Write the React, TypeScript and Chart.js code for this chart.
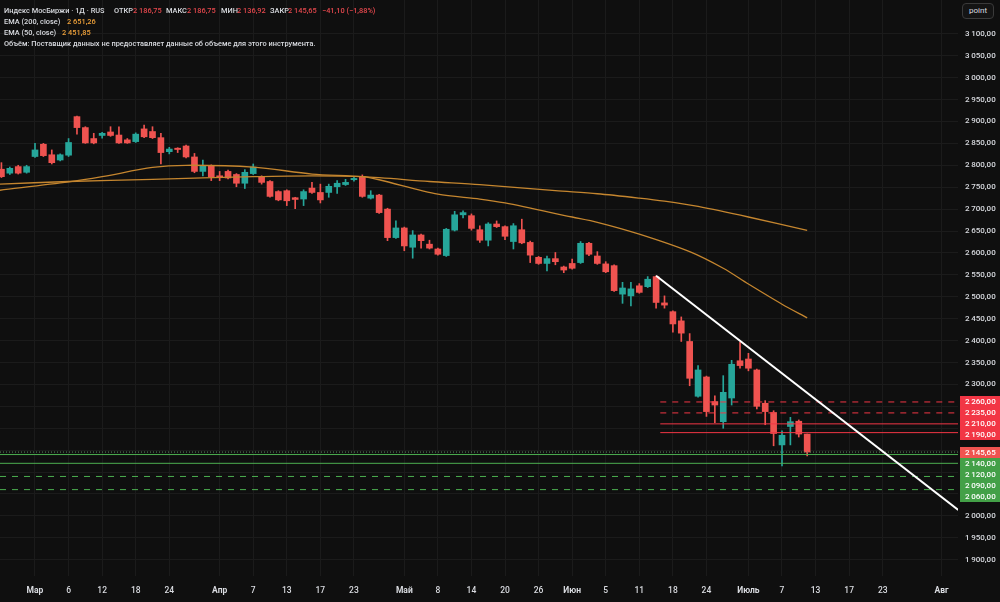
import React, { useEffect, useRef } from 'react';
import { Chart, registerables } from 'chart.js';

Chart.register(...registerables);

// ---- data -------------------------------------------------------------
const dates = [
  '24.02', '25.02', '26.02', '27.02', '02.03', '03.03', '04.03', '05.03', '06.03', '09.03',
  '10.03', '11.03', '12.03', '13.03', '16.03', '17.03', '18.03', '19.03', '20.03', '23.03',
  '24.03', '25.03', '26.03', '27.03', '30.03', '31.03', '01.04', '02.04', '03.04', '06.04',
  '07.04', '08.04', '09.04', '10.04', '13.04', '14.04', '15.04', '16.04', '17.04', '20.04',
  '21.04', '22.04', '23.04', '24.04', '27.04', '28.04', '29.04', '30.04', '04.05', '05.05',
  '06.05', '07.05', '08.05', '11.05', '12.05', '13.05', '14.05', '15.05', '18.05', '19.05',
  '20.05', '21.05', '22.05', '25.05', '26.05', '27.05', '28.05', '29.05', '01.06', '02.06',
  '03.06', '04.06', '05.06', '08.06', '09.06', '10.06', '11.06', '15.06', '16.06', '17.06',
  '18.06', '19.06', '22.06', '23.06', '24.06', '25.06', '26.06', '29.06', '30.06', '01.07',
  '02.07', '03.07', '06.07', '07.07', '08.07', '09.07', '10.07',
];

const opens = [
  2791, 2782, 2797, 2784, 2820, 2848, 2824, 2812, 2823, 2911,
  2886, 2861, 2868, 2876, 2869, 2858, 2854, 2883, 2877, 2863,
  2831, 2839, 2844, 2819, 2786, 2799, 2776, 2786, 2779, 2759,
  2781, 2774, 2763, 2740, 2742, 2726, 2723, 2748, 2738, 2738,
  2751, 2756, 2767, 2774, 2725, 2732, 2700, 2635, 2657, 2613,
  2641, 2620, 2609, 2594, 2652, 2687, 2685, 2653, 2629, 2666,
  2660, 2626, 2653, 2624, 2590, 2576, 2587, 2568, 2576, 2578,
  2622, 2593, 2575, 2571, 2506, 2502, 2525, 2523, 2546, 2486,
  2466, 2445, 2398, 2273, 2317, 2261, 2215, 2269, 2354, 2358,
  2333, 2257, 2236, 2162, 2204, 2216, 2186.75,
];
const highs = [
  2806, 2796, 2800, 2800, 2850, 2850, 2835, 2826, 2861, 2912,
  2888, 2873, 2875, 2888, 2888, 2861, 2874, 2892, 2888, 2873,
  2841, 2840, 2846, 2827, 2812, 2801, 2786, 2789, 2781, 2790,
  2803, 2776, 2765, 2742, 2744, 2727, 2744, 2761, 2757, 2757,
  2765, 2768, 2774, 2778, 2742, 2734, 2702, 2673, 2659, 2651,
  2643, 2629, 2611, 2656, 2695, 2696, 2689, 2662, 2669, 2673,
  2662, 2667, 2677, 2627, 2592, 2593, 2601, 2570, 2586, 2626,
  2624, 2603, 2580, 2573, 2533, 2533, 2530, 2546, 2548, 2502,
  2468, 2454, 2416, 2343, 2319, 2274, 2320, 2355, 2396, 2371,
  2335, 2263, 2240, 2194, 2225, 2219, 2186.75,
];
const lows = [
  2772, 2779, 2780, 2782, 2818, 2820, 2803, 2810, 2820, 2871,
  2850, 2849, 2862, 2866, 2850, 2850, 2852, 2863, 2861, 2803,
  2826, 2829, 2817, 2783, 2776, 2765, 2765, 2769, 2751, 2747,
  2779, 2757, 2727, 2719, 2708, 2701, 2708, 2736, 2714, 2727,
  2736, 2754, 2764, 2727, 2723, 2690, 2628, 2633, 2605, 2588,
  2611, 2609, 2595, 2592, 2650, 2680, 2652, 2624, 2616, 2658,
  2630, 2609, 2621, 2578, 2574, 2559, 2573, 2555, 2563, 2576,
  2594, 2574, 2555, 2512, 2485, 2479, 2508, 2521, 2474, 2474,
  2419, 2398, 2297, 2271, 2227, 2213, 2200, 2253, 2337, 2331,
  2244, 2208, 2160, 2114, 2162, 2180, 2136.92,
];
const closes = [
  2774, 2793, 2782, 2797, 2835, 2822, 2806, 2824, 2852, 2886,
  2851, 2851, 2873, 2868, 2851, 2851, 2871, 2865, 2863, 2829,
  2837, 2836, 2819, 2786, 2799, 2774, 2773, 2771, 2759, 2784,
  2796, 2761, 2729, 2721, 2719, 2722, 2740, 2738, 2721, 2752,
  2759, 2761, 2770, 2729, 2732, 2692, 2635, 2657, 2616, 2641,
  2628, 2611, 2597, 2654, 2687, 2692, 2656, 2629, 2666, 2660,
  2638, 2662, 2623, 2595, 2576, 2587, 2580, 2561, 2565, 2622,
  2597, 2576, 2557, 2514, 2520, 2518, 2510, 2540, 2487, 2481,
  2438, 2417, 2314, 2333, 2238, 2253, 2282, 2346, 2343, 2337,
  2250, 2238, 2188, 2184, 2215, 2186.75, 2145.65,
];

// EMA read-outs (bar index -> value)
const ema200Idx = [-0.2, 8, 18, 30, 37, 43, 51, 57, 66, 71, 76, 79, 83, 89, 96];
const ema200Vals = [2757, 2763, 2768, 2774, 2776, 2774, 2763, 2756, 2742, 2735, 2725, 2718, 2706, 2682, 2651.26];
const ema50Idx = [-0.2, 8, 12, 18, 22, 30, 37, 43, 45, 52, 57, 60, 68, 71, 76, 82, 86, 89, 93, 96];
const ema50Vals = [2743, 2762, 2774, 2795, 2800, 2796, 2780, 2774, 2767, 2734, 2723, 2714, 2682, 2670, 2643, 2603, 2565, 2529, 2483, 2451.85];

// trend line (bar index -> price)
const trendIdx = [78, 114];
const trendVals = [2548, 2013.5];

// horizontal levels
const redLevels = [2260, 2235, 2210, 2190];
const redDashed = [true, true, false, false];
const greenLevels = [2140, 2120, 2090, 2060];
const greenDashed = [false, false, true, true];
const lastPrice = 2145.65;
const redLevelStart = 78.5;

// axis ticks (labels between 2050 and 2250 sit under the level boxes)
const yTicks = [1900, 1950, 2000, 2050, 2100, 2150, 2200, 2250, 2300, 2350, 2400, 2450, 2500, 2550, 2600, 2650, 2700, 2750, 2800, 2850, 2900, 2950, 3000, 3050, 3100];
const yHiddenLabels = [2050, 2100, 2150, 2200, 2250];
const xTickIdx = [4, 8, 12, 16, 20, 26, 30, 34, 38, 42, 48, 52, 56, 60, 64, 68, 72, 76, 80, 84, 89, 93, 97, 101, 105, 112];
const xTickLabels = ['Мар', '6', '12', '18', '24', 'Апр', '7', '13', '17', '23', 'Май', '8', '14', '20', '26', 'Июн', '5', '11', '18', '24', 'Июль', '7', '13', '17', '23', 'Авг'];
const monthLabels = ['Мар', 'Апр', 'Май', 'Июн', 'Июль', 'Авг'];

// ---- styles -----------------------------------------------------------
const BG = '#0f0f0f';
const GRID = '#1b1b1b';
const TEXT = '#d9dbe0';
const UP = '#26a69a';
const DOWN = '#ef5350';
const RED = '#f23645';
const GREEN = '#4caf50';
const GREEN_BOX = '#43a047';
const EMA_COLOR = '#c5862f';
const FONT = "Roboto, 'Noto Sans', sans-serif";

const X_MIN = -0.17;
const X_MAX = 113.97;
const Y_MAX = 3177.1;
const Y_MIN = 1862.9;

const fmt = (v: number) => {
  const s = v.toFixed(2);
  const [int, dec] = s.split('.');
  const i2 = int.length > 3 ? int.slice(0, int.length - 3) + '\u2009' + int.slice(-3) : int;
  return i2 + ',' + dec;
};

const levelLabelsPlugin = {
  id: 'levelLabels',
  afterDraw(chart: any) {
    const y = chart.scales.y;
    const ctx = chart.ctx;
    const items: { v: number; color: string }[] = [
      ...redLevels.map((v) => ({ v, color: RED })),
      { v: lastPrice, color: DOWN },
      ...greenLevels.map((v) => ({ v, color: GREEN_BOX })),
    ];
    items.sort((a, b) => b.v - a.v);
    const h = 11;
    let prev = -Infinity;
    ctx.save();
    ctx.font = `500 8px ${FONT}`;
    ctx.textAlign = 'left';
    ctx.textBaseline = 'middle';
    for (const it of items) {
      let py = y.getPixelForValue(it.v);
      if (py < prev + h) py = prev + h;
      prev = py;
      const top = Math.round(py - h / 2);
      ctx.fillStyle = it.color;
      ctx.fillRect(960, top, 40, h);
      ctx.fillStyle = '#ffffff';
      ctx.fillText(fmt(it.v), 965, top + h / 2 + 0.5);
    }
    ctx.restore();
  },
};

export default function App() {
  const ref = useRef<HTMLCanvasElement>(null);

  useEffect(() => {
    document.body.style.margin = '0';
    document.body.style.background = BG;
    const colors = opens.map((o, i) => (closes[i] >= o ? UP : DOWN));
    const levelDs = (v: number, dashed: boolean, color: string, start: number, dash?: number[]) => ({
      type: 'line',
      data: [{ x: start, y: v }, { x: X_MAX, y: v }],
      borderColor: color,
      borderWidth: 1,
      borderDash: dash ? dash : dashed ? [6, 6] : [],
      pointRadius: 0,
      order: 2,
    });
    const chart = new Chart(ref.current!, {
      type: 'bar',
      data: {
        datasets: [
          {
            type: 'bar',
            data: opens.map((o, i) => ({ x: i, y: [o, closes[i]] })),
            backgroundColor: colors,
            borderWidth: 0,
            barThickness: 6,
            grouped: false,
            minBarLength: 1,
            order: 9,
          } as any,
          {
            type: 'bar',
            data: lows.map((l, i) => ({ x: i, y: [l, highs[i]] })),
            backgroundColor: colors,
            borderWidth: 0,
            barThickness: 1,
            grouped: false,
            order: 10,
          } as any,
          {
            type: 'line',
            data: ema200Idx.map((x, i) => ({ x, y: ema200Vals[i] })),
            borderColor: EMA_COLOR,
            borderWidth: 1.3,
            pointRadius: 0,
            tension: 0.3,
            order: 5,
          } as any,
          {
            type: 'line',
            data: ema50Idx.map((x, i) => ({ x, y: ema50Vals[i] })),
            borderColor: EMA_COLOR,
            borderWidth: 1.3,
            pointRadius: 0,
            tension: 0.3,
            order: 5,
          } as any,
          ...redLevels.map((v, i) => levelDs(v, redDashed[i], RED, redLevelStart) as any),
          ...greenLevels.map((v, i) => levelDs(v, greenDashed[i], GREEN, X_MIN) as any),
          levelDs(lastPrice, false, '#5f8f63', X_MIN, [1, 2]) as any,
          {
            type: 'line',
            data: trendIdx.map((x, i) => ({ x, y: trendVals[i] })),
            borderColor: '#ffffff',
            borderWidth: 2,
            pointRadius: 0,
            order: 1,
          } as any,
        ],
      },
      options: {
        animation: false,
        responsive: false,
        devicePixelRatio: 1,
        layout: { padding: 0 },
        plugins: { legend: { display: false }, tooltip: { enabled: false } },
        scales: {
          x: {
            type: 'linear',
            min: X_MIN,
            max: X_MAX,
            offset: false,
            grid: { color: GRID, drawTicks: false, offset: false },
            border: { display: false },
            afterBuildTicks: (s: any) => {
              s.ticks = xTickIdx.map((v) => ({ value: v }));
            },
            afterFit: (s: any) => {
              s.height = 26;
              s.paddingLeft = 0;
              s.paddingRight = 0;
            },
            ticks: {
              autoSkip: false,
              maxRotation: 0,
              padding: 10,
              color: TEXT,
              font: (c: any) => ({
                family: FONT,
                size: 8.5,
                weight: c.tick && monthLabels.includes(xTickLabels[xTickIdx.indexOf(c.tick.value)]) ? 'bold' : '500',
              }),
              callback: (v: any) => xTickLabels[xTickIdx.indexOf(v)],
            },
          },
          y: {
            type: 'linear',
            position: 'right',
            min: Y_MIN,
            max: Y_MAX,
            grid: { color: GRID, drawTicks: false },
            border: { display: false },
            afterBuildTicks: (s: any) => {
              s.ticks = yTicks.map((v) => ({ value: v }));
            },
            afterFit: (s: any) => {
              s.width = 42;
              s.paddingTop = 0;
              s.paddingBottom = 0;
            },
            ticks: {
              padding: 7,
              crossAlign: 'near',
              color: TEXT,
              font: { family: FONT, size: 8, weight: '500' },
              callback: (v: any) => (yHiddenLabels.includes(Number(v)) ? '' : fmt(Number(v))),
            },
          },
        },
      },
      plugins: [
        {
          id: 'bg',
          beforeDraw(c: any) {
            const ctx = c.ctx;
            ctx.save();
            ctx.fillStyle = BG;
            ctx.fillRect(0, 0, c.width, c.height);
            ctx.restore();
          },
        },
        levelLabelsPlugin,
      ],
    } as any);
    return () => chart.destroy();
  }, []);

  const red = { color: '#e5484d' };
  const orange = { color: '#f0a23a' };
  const abs = (left: number, extra?: any) => ({ position: 'absolute' as const, left, top: 0, ...extra });
  return (
    <div style={{ position: 'fixed', left: 0, top: 0, width: 1000, height: 602, background: BG, overflow: 'hidden' }}>
      <canvas ref={ref} width={1000} height={602} style={{ display: 'block', width: 1000, height: 602 }} />
      <div
        style={{
          position: 'absolute',
          left: 0,
          top: 5,
          fontFamily: FONT,
          fontSize: 7.4,
          fontWeight: 500,
          lineHeight: '11px',
          color: TEXT,
          whiteSpace: 'nowrap',
          width: 420,
        }}
      >
        <div style={{ position: 'relative', height: 11 }}>
          <span style={abs(4)}>Индекс МосБиржи · 1Д · RUS</span>
          <span style={abs(114)}>ОТКР</span>
          <span style={abs(133, red)}>2 186,75</span>
          <span style={abs(166)}>МАКС</span>
          <span style={abs(187, red)}>2 186,75</span>
          <span style={abs(221)}>МИН</span>
          <span style={abs(237, red)}>2 136,92</span>
          <span style={abs(270)}>ЗАКР</span>
          <span style={abs(288, red)}>2 145,65</span>
          <span style={abs(322, red)}>−41,10 (−1,88%)</span>
        </div>
        <div style={{ position: 'relative', height: 11 }}>
          <span style={abs(4)}>EMA (200, close)</span>
          <span style={abs(67, orange)}>2 651,26</span>
        </div>
        <div style={{ position: 'relative', height: 11 }}>
          <span style={abs(4)}>EMA (50, close)</span>
          <span style={abs(62, orange)}>2 451,85</span>
        </div>
        <div style={{ paddingLeft: 4 }}>Объём: Поставщик данных не предоставляет данные об объеме для этого инструмента.</div>
      </div>
      <div
        style={{
          position: 'absolute',
          left: 962,
          top: 3,
          width: 32,
          height: 16,
          boxSizing: 'border-box',
          border: '1px solid #3a3a3a',
          borderRadius: 4,
          background: '#141414',
          color: TEXT,
          fontFamily: FONT,
          fontSize: 8,
          lineHeight: '14px',
          textAlign: 'center',
        }}
      >
        point
      </div>
    </div>
  );
}
